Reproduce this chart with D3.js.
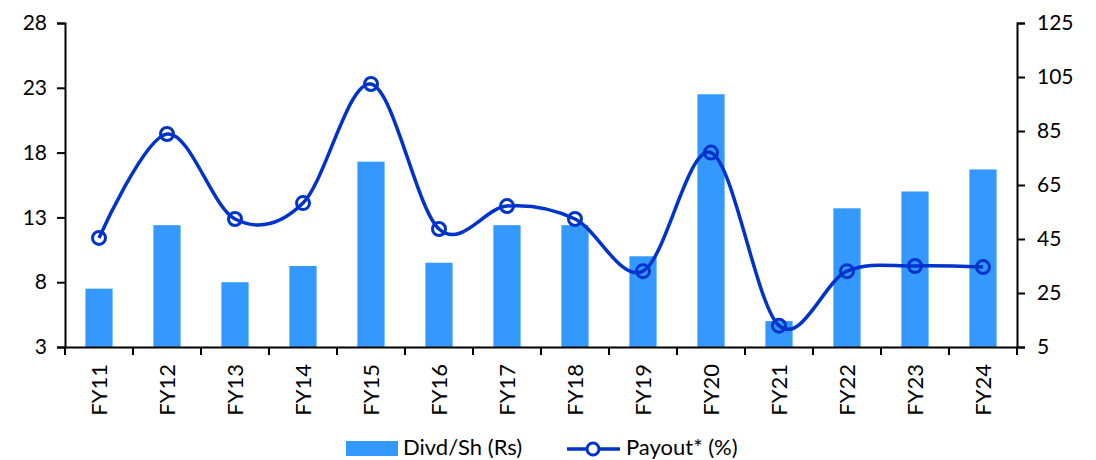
<!DOCTYPE html>
<html>
<head>
<meta charset="utf-8">
<script src="https://cdn.jsdelivr.net/npm/d3@7"></script>
<style>
  body { margin: 0; background: #fff; }
  text { font-family: Lato, "Open Sans", sans-serif; fill: #000; }
</style>
</head>
<body>
<svg class="chart"></svg>
<script>
const years = ['FY11', 'FY12', 'FY13', 'FY14', 'FY15', 'FY16', 'FY17', 'FY18', 'FY19', 'FY20', 'FY21', 'FY22', 'FY23', 'FY24'];
const dps = [7.5, 12.4, 8.0, 9.25, 17.3, 9.5, 12.4, 12.4, 10.0, 22.5, 5.0, 13.7, 15.0, 16.7];
const payout = [45.4, 83.9, 52.4, 58.3, 102.4, 48.7, 57.2, 52.4, 33.1, 77.0, 12.9, 33.1, 35.0, 34.6];
const leftTicks = [3, 8, 13, 18, 23, 28];
const rightTicks = [5, 25, 45, 65, 85, 105, 125];

const [width, height] = [1096, 460];
const m = { left: 65, right: 1017, top: 23, bottom: 347 };
const barColor = '#3399ff';
const lineColor = '#0033cc';

const svg = d3.select('.chart').attr('width', width).attr('height', height);

const x = d3.scaleBand().domain(years).range([m.left, m.right]);
const yL = d3.scaleLinear().domain([3, 28]).range([m.bottom, m.top]);
const yR = d3.scaleLinear().domain([5, 125]).range([m.bottom, m.top]);

// bars
const bw = x.bandwidth() * 0.4;
svg.append('g')
  .selectAll('rect')
  .data(years)
  .enter()
  .append('rect')
  .attr('x', (d) => x(d) + (x.bandwidth() - bw) / 2)
  .attr('y', (d, i) => yL(dps[i]))
  .attr('width', bw)
  .attr('height', (d, i) => yL(3) - yL(dps[i]))
  .attr('fill', barColor);

// axes
const axisStyle = (g) => {
  g.select('.domain').attr('stroke', '#000').attr('stroke-width', 2);
  g.selectAll('.tick line').attr('stroke', '#000').attr('stroke-width', 2);
  g.selectAll('.tick text').style('font-size', '21px');
};

svg.append('g')
  .attr('transform', `translate(${m.left},0)`)
  .call(d3.axisLeft(yL).tickValues(leftTicks).tickSize(8).tickSizeOuter(8).tickPadding(10))
  .call(axisStyle);

svg.append('g')
  .attr('transform', `translate(${m.right},0)`)
  .call(d3.axisRight(yR).tickValues(rightTicks).tickSize(8).tickSizeOuter(8).tickPadding(12))
  .call(axisStyle);

const xAxis = svg.append('g')
  .attr('transform', `translate(0,${m.bottom})`)
  .call(d3.axisBottom(x).tickSize(0).tickSizeOuter(0));
xAxis.select('.domain').attr('stroke', '#000').attr('stroke-width', 2);
xAxis.selectAll('.tick text')
  .style('font-size', '22px')
  .attr('transform', 'rotate(-90)')
  .attr('text-anchor', 'end')
  .attr('dy', '0.35em')
  .attr('x', -17)
  .attr('y', 0);
// boundary ticks between categories
xAxis.selectAll('line.bound')
  .data(years.map((d) => x(d)).concat([m.right]))
  .enter()
  .append('line')
  .attr('class', 'bound')
  .attr('x1', (d) => d)
  .attr('x2', (d) => d)
  .attr('y1', 0)
  .attr('y2', 8)
  .attr('stroke', '#000')
  .attr('stroke-width', 2);

// payout line
const pts = years.map((d, i) => [x(d) + x.bandwidth() / 2, yR(payout[i])]);
svg.append('path')
  .attr('d', d3.line().curve(d3.curveCardinal.tension(0))(pts))
  .attr('fill', 'none')
  .attr('stroke', lineColor)
  .attr('stroke-width', 3.5);

svg.append('g')
  .selectAll('circle')
  .data(pts)
  .enter()
  .append('circle')
  .attr('cx', (d) => d[0])
  .attr('cy', (d) => d[1])
  .attr('r', 6.5)
  .attr('fill', 'none')
  .attr('stroke', lineColor)
  .attr('stroke-width', 3);

// legend
const lg = svg.append('g');
lg.append('rect').attr('x', 346).attr('y', 441).attr('width', 52).attr('height', 15).attr('fill', barColor);
lg.append('text').attr('x', 403).attr('y', 455).style('font-size', '22px').text('Divd/Sh (Rs)');
lg.append('line').attr('x1', 567).attr('x2', 620).attr('y1', 449).attr('y2', 449)
  .attr('stroke', lineColor).attr('stroke-width', 3.5);
lg.append('circle').attr('cx', 593).attr('cy', 449).attr('r', 6).attr('fill', '#fff')
  .attr('stroke', lineColor).attr('stroke-width', 3);
lg.append('text').attr('x', 626).attr('y', 455).style('font-size', '22px').text('Payout* (%)');
</script>
</body>
</html>
